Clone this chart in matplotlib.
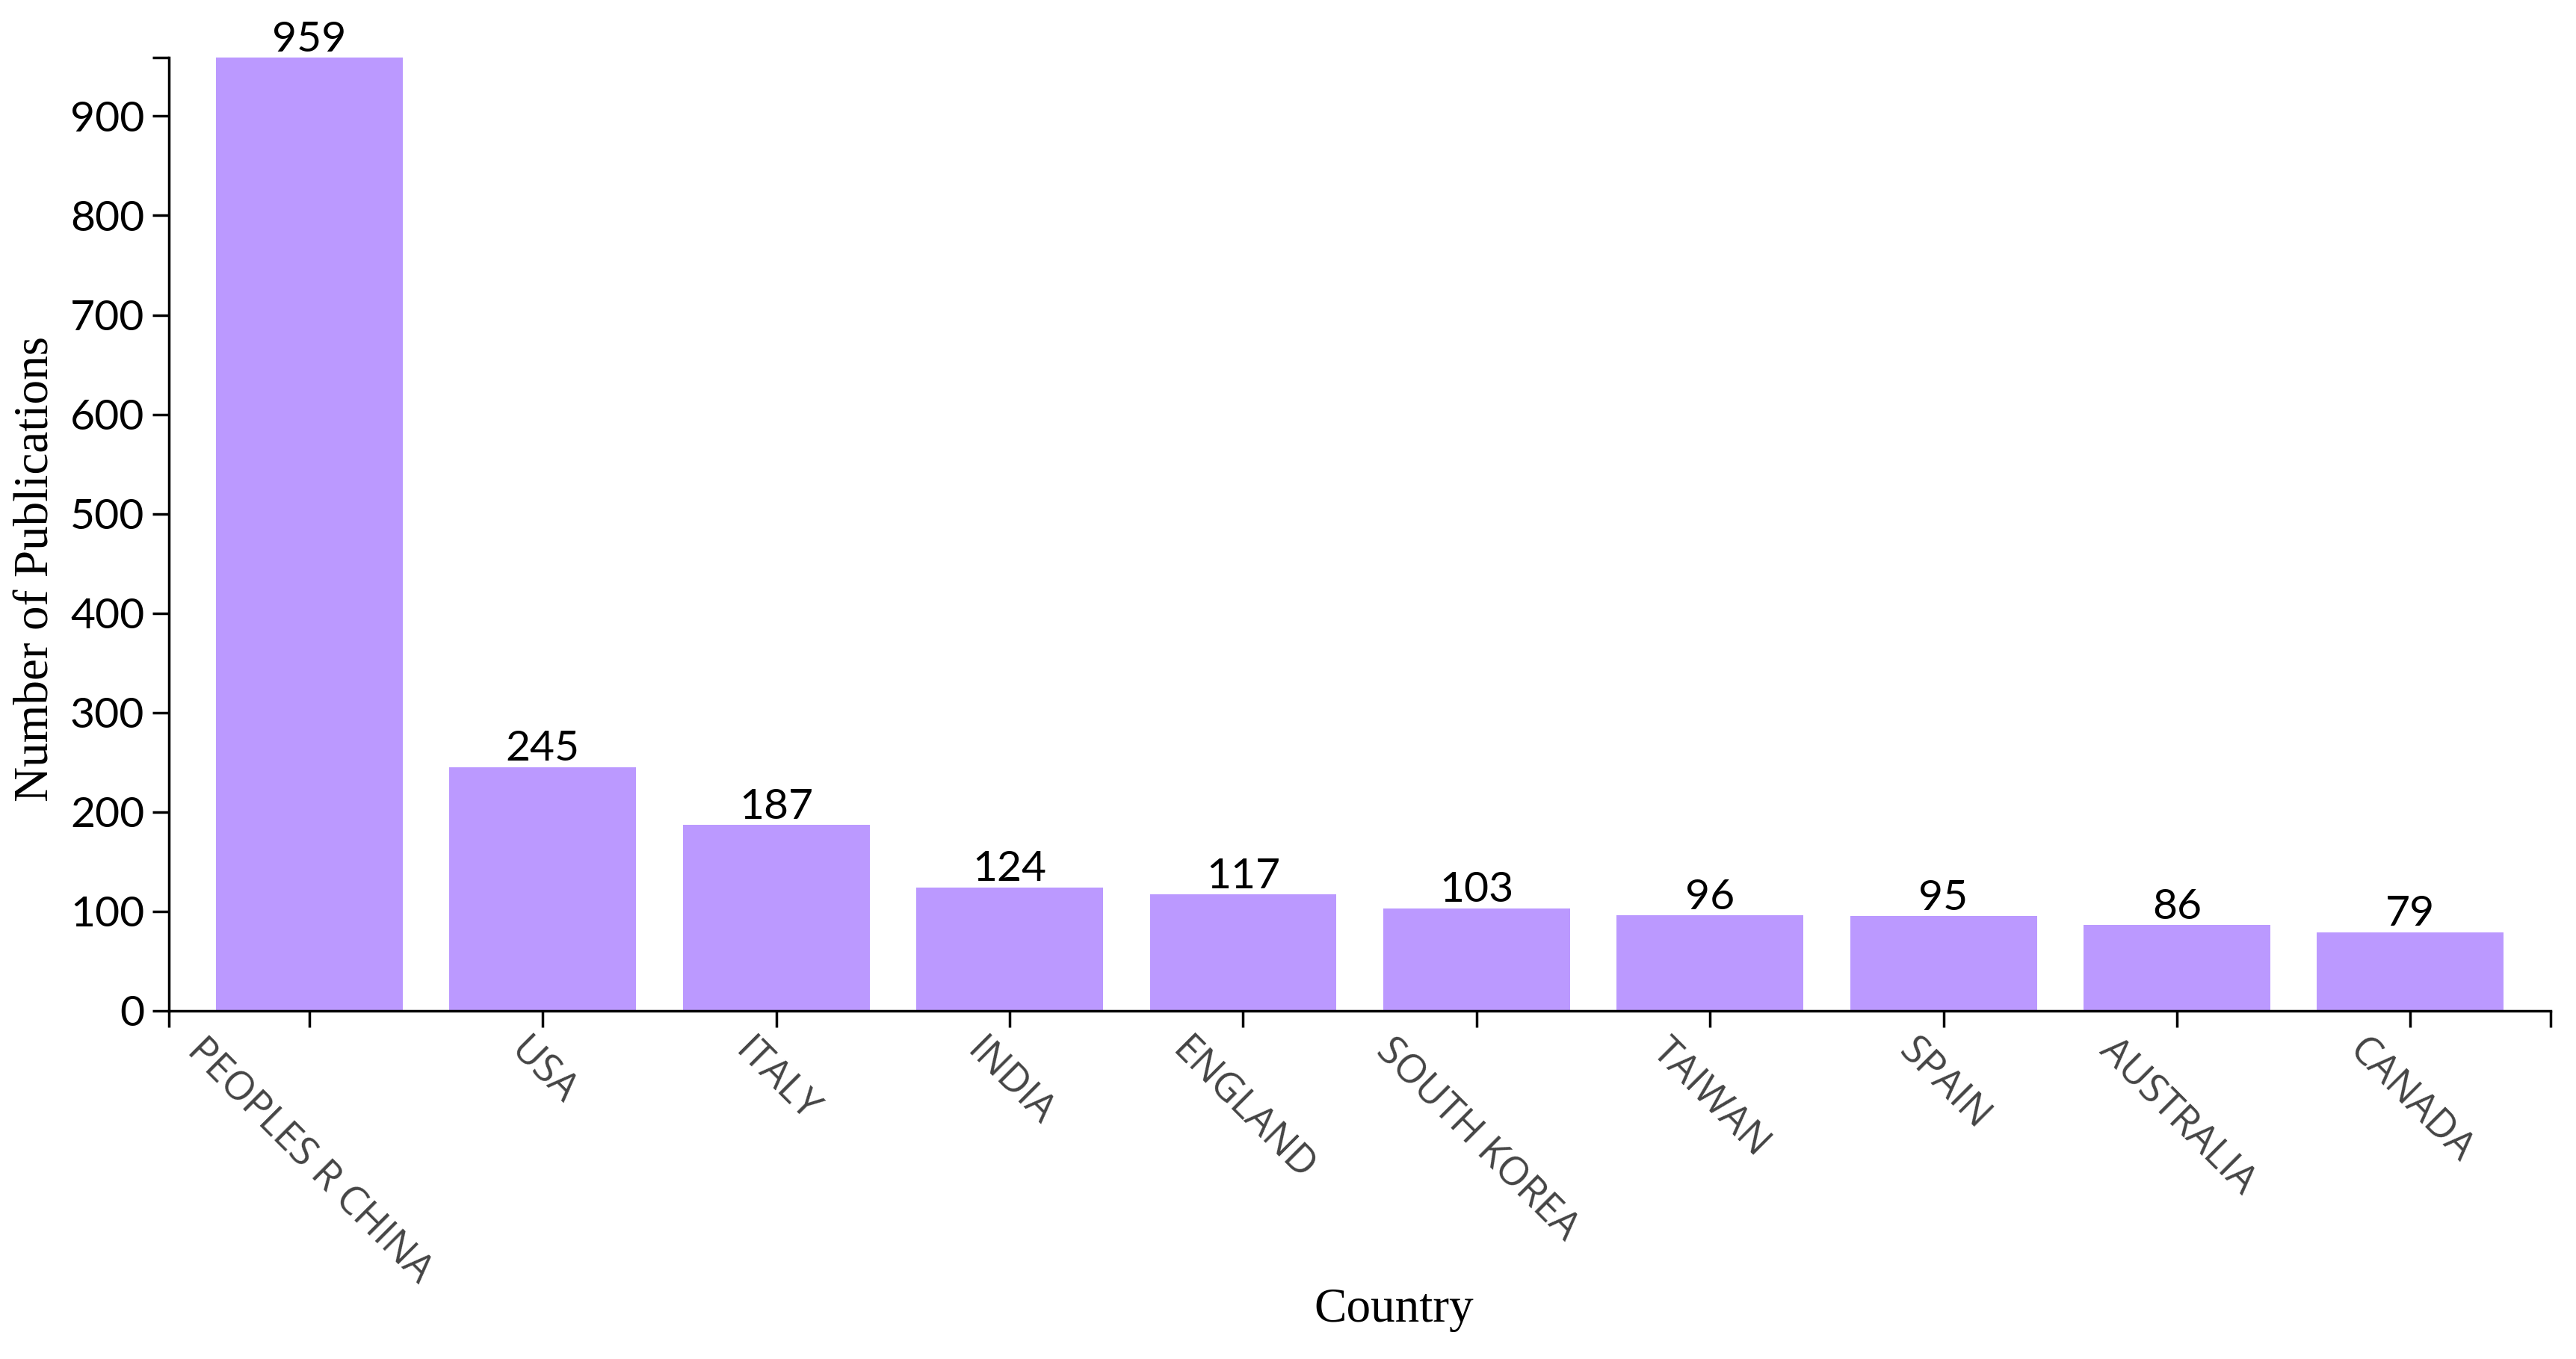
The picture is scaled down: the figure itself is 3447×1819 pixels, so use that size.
import matplotlib
matplotlib.use("Agg")
import matplotlib.pyplot as plt
from matplotlib import font_manager

countries = ["PEOPLES R CHINA", "USA", "ITALY", "INDIA", "ENGLAND",
             "SOUTH KOREA", "TAIWAN", "SPAIN", "AUSTRALIA", "CANADA"]
publications = [959, 245, 187, 124, 117, 103, 96, 95, 86, 79]
y_ticks = [0, 100, 200, 300, 400, 500, 600, 700, 800, 900]

names = {f.name for f in font_manager.fontManager.ttflist}
num_font = "Liberation Sans Narrow" if "Liberation Sans Narrow" in names else "Lato"
lab_font = "Open Sans"
serif_font = "Liberation Serif"

W, H = 3448, 1819
DPI = 100
fig = plt.figure(figsize=(W / DPI, H / DPI), dpi=DPI)
ax = fig.add_axes([103 / 1568, 1 - 615 / 827, (1552 - 103) / 1568, (615 - 35) / 827])

x = list(range(len(countries)))
ax.bar(x, publications, width=0.8, color="#bb99ff", edgecolor="none")

ax.set_xlim(-0.6, len(countries) - 1 + 0.6)
ax.set_ylim(0, max(publications))

for s in ["top", "right"]:
    ax.spines[s].set_visible(False)
for s in ["left", "bottom"]:
    ax.spines[s].set_linewidth(2.5)
    ax.spines[s].set_color("black")

ax.set_yticks(y_ticks)
ax.set_yticklabels([str(v) for v in y_ticks], fontsize=41, fontfamily=num_font)
ax.set_yticks([max(publications)], minor=True)
ax.tick_params(axis="y", which="both", length=16, width=2.5, pad=8, colors="black")

ax.set_xticks(x)
ax.set_xticklabels(countries, rotation=-45, ha="center", va="top",
                   fontsize=38, color="#444444", fontfamily=lab_font)
ax.set_xticks([-0.6, len(countries) - 1 + 0.6], minor=True)
ax.tick_params(axis="x", which="both", length=16, width=2.5, pad=4)

# value labels
for i, v in enumerate(publications):
    ax.annotate(str(v), (i, v), xytext=(0, 6), textcoords="offset points",
                ha="center", va="baseline", fontsize=41, fontfamily=num_font,
                color="black")

fig.text(22 / 1568, 1 - 346 / 827, "Number of Publications", rotation=90,
         ha="center", va="center", fontsize=47, fontfamily=serif_font)
fig.text(848 / 1568, 1 - 797 / 827, "Country", ha="center", va="center",
         fontsize=47, fontfamily=serif_font)

fig.savefig("out.png", dpi=DPI)
